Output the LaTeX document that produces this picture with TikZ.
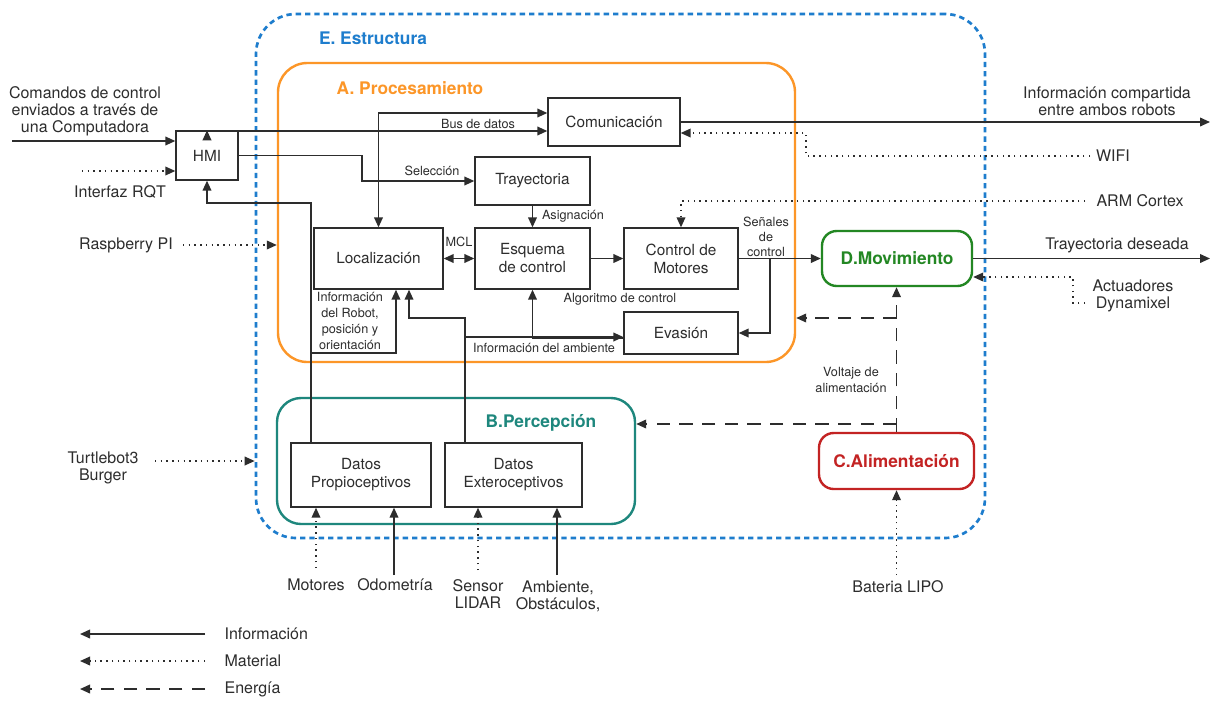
\documentclass[tikz,border=0pt]{standalone}
\usepackage{fontspec}
\setmainfont{TeX Gyre Heros}
\usetikzlibrary{arrows.meta}
\definecolor{estrucblue}{RGB}{30,125,205}
\definecolor{procorange}{RGB}{252,150,40}
\definecolor{percteal}{RGB}{30,135,125}
\definecolor{movgreen}{RGB}{35,135,35}
\definecolor{alimred}{RGB}{195,35,35}
\definecolor{txtgray}{RGB}{45,45,45}
\tikzset{
  blk/.style={draw=txtgray, line width=1pt, align=center, inner sep=0pt,
    font=\fontsize{11.5}{13.5}\selectfont, text=txtgray},
  grp/.style={draw, line width=1.8pt, inner sep=0pt, rounded corners=22pt},
  ttl/.style={font=\fontsize{13}{15}\selectfont\bfseries},
  lbl/.style={font=\fontsize{9.5}{11.5}\selectfont, text=txtgray, align=center, inner sep=1pt},
  ext/.style={font=\fontsize{12}{12.8}\selectfont, text=txtgray, align=center, inner sep=1pt},
  info/.style={->, line width=1.2pt, draw=txtgray},
  mat/.style={->, line width=1.1pt, draw=txtgray, dash pattern=on 1.1pt off 3.2pt},
  ener/.style={->, line width=1.2pt, draw=txtgray, dash pattern=on 10pt off 7pt},
}
\begin{document}
\begin{tikzpicture}[x=0.75pt,y=0.75pt,yscale=-1,xscale=1,>={Triangle[length=7.5pt,width=6.5pt]}]
\fill[white] (0,0) rectangle (1219,700);
\useasboundingbox (0,0) rectangle (1219,700);

% bloques de grupo
\node[grp, draw=estrucblue, line width=2pt, dash pattern=on 4pt off 3pt, rounded corners=30pt,
  minimum width=546.75pt, minimum height=393pt] (estruc) at (620.5,276) {};
\node[grp, draw=procorange, minimum width=387.75pt, minimum height=224.25pt] (proc) at (536.5,212.5) {};
\node[grp, draw=percteal, rounded corners=18pt, minimum width=268.5pt, minimum height=94.5pt] (perc) at (456,461) {};
\node[grp, draw=movgreen, rounded corners=11pt, minimum width=112.5pt, minimum height=41.25pt,
  ttl, text=movgreen] (mov) at (897,258.5) {D.Movimiento};
\node[grp, draw=alimred, rounded corners=11pt, minimum width=116.25pt, minimum height=42pt,
  ttl, text=alimred] (alim) at (896.5,461) {C.Alimentación};
\node[ttl, text=estrucblue] (estructit) at (373,38) {E. Estructura};
\node[ttl, text=procorange] (proctit) at (410,88) {A. Procesamiento};
\node[ttl, text=percteal] (perctit) at (541,423) {B.Percepción};

% bloques
\node[blk, minimum width=46.5pt, minimum height=36.75pt] (hmi) at (207,155.5) {HMI};
\node[blk, minimum width=99pt, minimum height=36pt] (com) at (614,122) {Comunicación};
\node[blk, minimum width=86.25pt, minimum height=36pt] (tray) at (532.5,181) {Trayectoria};
\node[blk, minimum width=96.75pt, minimum height=45.75pt] (loc) at (378.5,258.5) {Localización};
\node[blk, minimum width=86.25pt, minimum height=45.75pt] (esq) at (532.5,258.5) {Esquema\\de control};
\node[blk, minimum width=85.5pt, minimum height=45.75pt] (ctrl) at (681,258.5) {Control de\\Motores};
\node[blk, minimum width=85.5pt, minimum height=31.5pt] (eva) at (681,333) {Evasión};
\node[blk, minimum width=105pt, minimum height=48pt] (prop) at (361,475) {Datos\\Propioceptivos};
\node[blk, minimum width=102.75pt, minimum height=48pt] (exte) at (513.5,475) {Datos\\Exteroceptivos};

% textos externos
\node[ext] (cmd) at (85,111) {Comandos de control\\enviados a través de\\una Computadora};
\node[ext] (rqt) at (120,192) {Interfaz RQT};
\node[ext] (rpi) at (126,245) {Raspberry PI};
\node[ext] (turtle) at (103,468) {Turtlebot3\\Burger};
\node[ext] (infoc) at (1107,101) {Información compartida\\entre ambos robots};
\node[ext] (wifi) at (1113,156) {WIFI};
\node[ext] (arm) at (1140,201) {ARM Cortex};
\node[ext] (trayd) at (1117,245) {Trayectoria deseada};
\node[ext] (actu) at (1133,296) {Actuadores\\Dynamixel};
\node[ext] (motores) at (316,585) {Motores};
\node[ext] (odom) at (395,585) {Odometría};
\node[ext] (lidar) at (478,594) {Sensor\\LIDAR};
\node[ext] (amb) at (558,596) {Ambiente,\\Obstáculos,};
\node[ext] (bat) at (898,587) {Bateria LIPO};

% etiquetas
\node[lbl] (bus) at (478,124) {Bus de datos};
\node[lbl] (sel) at (432,171) {Selección};
\node[lbl] (asig) at (573,216) {Asignación};
\node[lbl] (mcl) at (459,242) {MCL};
\node[lbl] (algo) at (620,299) {Algoritmo de control};
\node[lbl, font=\fontsize{9.5}{11.3}\selectfont] (sen) at (766,237) {Señales\\de\\control};
\node[lbl, font=\fontsize{9.5}{12}\selectfont] (infrob) at (350,321) {Información\\del Robot,\\posición y\\orientación};
\node[lbl] (infamb) at (544,348) {Información del ambiente};
\node[lbl] (volt) at (851,380) {Voltaje de\\alimentación};

% puntos auxiliares
\coordinate (cmdin) at (12,141);
\coordinate (rqtin) at (82,171);
\coordinate (selk) at (362,181);
\coordinate (hmik) at (207,203);
\coordinate (propbr) at (311,353);
\coordinate (extk) at (409,318);
\coordinate (extbr) at (465,337);
\coordinate (senbr) at (770,258.5);
\coordinate (infoout) at (1210,122);
\coordinate (wifiin) at (1090,156);
\coordinate (wifik) at (806,133);
\coordinate (armin) at (1085,201);
\coordinate (trayout) at (1210,258.5);
\coordinate (actin) at (1085,303);
\coordinate (actk) at (1073,277);
\coordinate (rpiin) at (183,245);
\coordinate (turtin) at (155,461);
\coordinate (enk1) at (896.5,318);
\coordinate (enk2) at (896.5,424);
\coordinate (batin) at (896.5,575);
\coordinate (motin) at (316,568);
\coordinate (odomin) at (394,575);
\coordinate (lidarin) at (478,570);
\coordinate (ambin) at (557,575);

% conectores
\draw[info] (cmdin) -- (hmi.west |- cmdin);
\draw[mat] (rqtin) -- (hmi.west |- rqtin);
\draw[info,<->] (hmi.north) |- ([yshift=6.75pt]com.west);
\draw[info,<->] (loc.north) |- ([yshift=-6.75pt]com.west);
\draw[info] (hmi.east) -| (selk) -- (tray.west);
\draw[info] ([xshift=-37.5pt]prop.north) |- (hmik) -- (hmi.south);
\draw[info] (propbr) -| ([xshift=13.1pt]loc.south);
\draw[info] ([xshift=-36.4pt]exte.north) |- (extk) -- (extk |- loc.south);
\draw[info] (extbr) -- (eva.west |- extbr);
\draw[info] ([yshift=3.75pt]eva.west) -| (esq.south);
\draw[info] (tray.south) -- (esq.north);
\draw[info,<->] (loc.east) -- (esq.west);
\draw[info] (esq.east) -- (ctrl.west);
\draw[info] (ctrl.east) -- (mov.west);
\draw[info] (senbr) |- (eva.east);
\draw[info] (com.east) -- (infoout);
\draw[mat] (wifiin) -| (wifik) -- (wifik -| com.east);
\draw[mat] (armin) -| (ctrl.north);
\draw[info] (mov.east) -- (trayout);
\draw[mat] (actin) -| (actk) -- (actk -| mov.east);
\draw[mat] (rpiin) -- (rpiin -| proc.west);
\draw[mat] (turtin) -- (turtin -| estruc.west);
\draw[ener] (alim.north) -- (alim.north |- mov.south);
\draw[ener] (enk1) -- (enk1 -| proc.east);
\draw[ener] (enk2) -- (enk2 -| perc.east);
\draw[mat] (batin) -- (alim.south);
\draw[mat] (motin) -- (motin |- prop.south);
\draw[info] (odomin) -- (odomin |- prop.south);
\draw[mat] (lidarin) -- (lidarin |- exte.south);
\draw[info] (ambin) -- (ambin |- exte.south);

% leyenda
\node[ext, anchor=west] (leginfo) at (223,634) {Información};
\node[ext, anchor=west] (legmat) at (223,661) {Material};
\node[ext, anchor=west] (legener) at (223,689) {Energía};
\coordinate (leg1) at (205,634);
\coordinate (leg2) at (205,661);
\coordinate (leg3) at (205,689);
\draw[info] (leg1) -- ++(-125,0);
\draw[mat] (leg2) -- ++(-125,0);
\draw[ener] (leg3) -- ++(-125,0);
\end{tikzpicture}
\end{document}
